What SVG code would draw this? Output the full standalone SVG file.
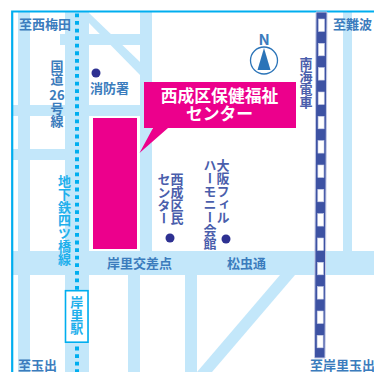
<svg xmlns="http://www.w3.org/2000/svg" width="374" height="372" viewBox="0 0 374 372">
<style>
text{font-family:"Noto Sans CJK JP","Noto Sans",sans-serif;font-weight:700;font-size:13px}
.road{fill:#c3e7fa}
.s{fill:#3b7cbd}
.c{fill:#1fb0ec}
.n{fill:#4a5eac}
.v{writing-mode:vertical-rl;text-orientation:upright;text-anchor:start;letter-spacing:0}
.m{text-anchor:middle}
.dot{fill:#2e3192}
</style>
<rect width="374" height="372" fill="#fff"/>
<g id="roads" class="road">
<rect x="18" y="12" width="12" height="360"/>
<rect x="65" y="12" width="24" height="360"/>
<rect x="140" y="12" width="12" height="239"/>
<rect x="60" y="34" width="80" height="11"/>
<rect x="12" y="105" width="128" height="11"/>
<rect x="12" y="149" width="53" height="11"/>
<rect x="12" y="251" width="362" height="24"/>
<rect x="128" y="275" width="12" height="97"/>
<rect x="185" y="275" width="12" height="97"/>
<rect x="343" y="12" width="9" height="239"/>
<polygon points="89,13 140,62 140,75 89,23"/>
<polygon points="280,275 295,275 212,372 197,372"/>
</g>
<g id="frame" fill="none" stroke="#00aeef" stroke-width="2.2"><path d="M12.200 372V11.500H374"/></g>
<g id="connectors">
<line id="metro" x1="77" y1="13.500" x2="77" y2="372" stroke="#00aeef" stroke-width="4" stroke-dasharray="3.800 3.770"/>
<g id="railway">
<polygon points="316,12 327,12 325,358 314.500,358" fill="#3d52a3" stroke="#c5cbe6" stroke-width="1"/>
<g fill="#fff" stroke="#c5cbe6" stroke-width=".6">
<rect x="318.500" y="19" width="6" height="12.500"/><rect x="318.400" y="43.300" width="6" height="12.500"/><rect x="318.300" y="67.600" width="6" height="12.500"/><rect x="318.200" y="92" width="6" height="12.500"/><rect x="318.100" y="116.300" width="6" height="12.500"/><rect x="318" y="140.600" width="6" height="12.500"/><rect x="317.900" y="165" width="6" height="12.500"/><rect x="317.800" y="189.300" width="6" height="12.500"/><rect x="317.700" y="213.600" width="6" height="12.500"/><rect x="317.500" y="238" width="6" height="12.500"/><rect x="317.400" y="262.300" width="6" height="12.500"/><rect x="317.300" y="286.600" width="6" height="12.500"/><rect x="317.200" y="311" width="6" height="12.500"/><rect x="317.100" y="335.300" width="6" height="12.500"/>
</g>
</g>
</g>
<g id="target"><rect x="93" y="118" width="44" height="131" fill="#ec008c"/></g>
<g id="callout">
<polygon points="144,82 296,82 296,128 168,128 139.500,153 153,128 144,128" fill="#ec008c"/>
<text x="219.500" y="101.500" class="m" fill="#fff" style="font-size:16.800px">西成区保健福祉</text>
<text x="219.500" y="120" class="m" fill="#fff" style="font-size:16.800px">センター</text>
</g>
<g id="station">
<rect x="65.500" y="290.700" width="22.500" height="51.500" fill="#fff" stroke="#00aeef" stroke-width="1.600"/>
<text x="76.800" y="296" class="v c">岸里駅</text>
</g>
<g id="north">
<text x="264" y="45" class="m s" style="font-size:15px">N</text>
<circle cx="264" cy="60.500" r="13.500" fill="#fff" stroke="#2b74b8" stroke-width="1.300"/>
<polygon points="264,48 270.500,70 257.500,70" fill="#2b74b8"/>
</g>
<g id="shobo"><circle class="dot" cx="96" cy="73" r="4.500"/><text x="90" y="92.500" class="s">消防署</text></g>
<g id="kumin"><circle class="dot" cx="170" cy="238" r="4.500"/>
<text x="177" y="173" class="v n">西成区民</text><text x="164" y="173" class="v n">センター</text></g>
<g id="harmony"><circle class="dot" cx="226" cy="239" r="4.500"/>
<text x="223" y="159" class="v n">大阪フィル</text><text x="210" y="159" class="v n">ハーモニー会館</text></g>
<g id="labels">
<text x="19" y="29" class="s">至西梅田</text>
<text x="333" y="29" class="s">至難波</text>
<text x="18" y="370" class="s">至玉出</text>
<text x="310" y="370" class="s">至岸里玉出</text>
<text x="107" y="268" class="s">岸里交差点</text>
<text x="227" y="268" class="s">松虫通</text>
<text x="57" y="60" class="v s">国道</text>
<text x="57" y="100" class="m s">26</text>
<text x="57" y="102" class="v s">号線</text>
<text x="64.500" y="175" class="v c">地下鉄四ツ橋線</text>
<text x="306" y="57" class="v n">南海電車</text>
</g>
</svg>
